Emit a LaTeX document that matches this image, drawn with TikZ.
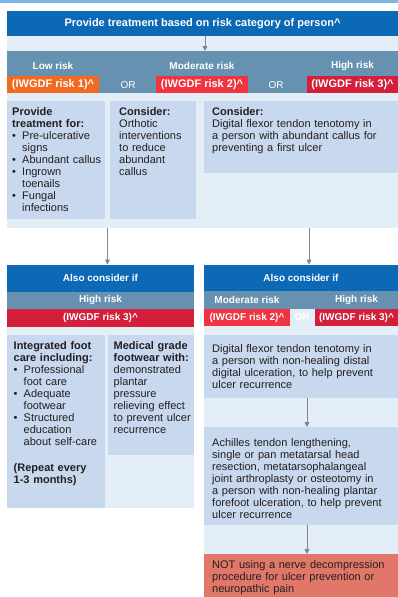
\documentclass[tikz,border=0pt]{standalone}
\usepackage{fontspec}
\setmainfont{Liberation Sans}
\usepackage{enumitem}
\usetikzlibrary{arrows.meta}

\definecolor{stripblue}{HTML}{7DB6E3}
\definecolor{hdrblue}{HTML}{0B69B5}
\definecolor{bandblue}{HTML}{6791B0}
\definecolor{panelbg}{HTML}{E3EEF6}
\definecolor{cardblue}{HTML}{C8D8EE}
\definecolor{lowrisk}{HTML}{F26A22}
\definecolor{modrisk}{HTML}{EF3340}
\definecolor{highrisk}{HTML}{D31F3A}
\definecolor{notbox}{HTML}{E07769}
\definecolor{bodytext}{HTML}{231F20}
\definecolor{flowgray}{HTML}{7E8790}

\newcommand{\bodysize}{\fontsize{11}{12}\selectfont}
\newcommand{\lblsize}{\fontsize{10}{12}\selectfont\bfseries}
\setlist[itemize]{leftmargin=10pt,labelwidth=5pt,labelsep=5pt,align=left,nosep,label=\textbullet}

\tikzset{
    area/.style={inner sep=0pt, outer sep=0pt, anchor=north west},
    panel/.style={area, fill=panelbg},
    hdr/.style={area, fill=hdrblue, text=white, font=\lblsize},
    band/.style={area, fill=bandblue, text=white, font=\lblsize},
    riskbox/.style={area, fill=#1, text=white, font=\lblsize},
    card/.style={area, fill=cardblue},
    cardtext/.style={inner sep=0pt, anchor=north west, align=left, text=bodytext, font=\bodysize},
    bandlbl/.style={text=white, font=\lblsize, inner sep=0pt},
    flow/.style={draw=flowgray, line width=0.9pt, -{Triangle[length=5pt,width=5pt]}},
}

\begin{document}
\begin{tikzpicture}[x=1pt,y=-1pt]
            \useasboundingbox (0,0) rectangle (398,597);
            \fill[stripblue] (0,0) rectangle (398,2.5);

            \node[panel, minimum width=391pt, minimum height=193pt] (toppanel) at (7,35) {};
            \node[hdr, minimum width=391pt, minimum height=24.5pt, font=\fontsize{11}{13}\selectfont\bfseries] (tophdr) at (7,11) {Provide treatment based on risk category of person\textasciicircum};
            \node[band, minimum width=391pt, minimum height=42pt] (topband) at (7,51) {};
            \node[riskbox=lowrisk, minimum width=92pt, minimum height=17pt, font=\fontsize{11}{12}\selectfont\bfseries] (low) at (7,76) {(IWGDF risk 1)\textasciicircum};
            \node[riskbox=modrisk, minimum width=92pt, minimum height=17pt, font=\fontsize{11}{12}\selectfont\bfseries] (mod) at (156,76) {(IWGDF risk 2)\textasciicircum};
            \node[riskbox=highrisk, minimum width=91pt, minimum height=17pt, font=\fontsize{11}{12}\selectfont\bfseries] (high) at (307,76) {(IWGDF risk 3)\textasciicircum};
            \node[bandlbl] (lowlbl) at (53,65.5) {Low risk};
            \node[bandlbl] (modlbl) at (202,65.5) {Moderate risk};
            \node[bandlbl] (highlbl) at (352.5,65.5) {High risk};
            \node[bandlbl, font=\fontsize{10}{12}\selectfont] (or1) at (128,85.5) {OR};
            \node[bandlbl, font=\fontsize{10}{12}\selectfont] (or2) at (276,85.5) {OR};
            \draw[flow] ([xshift=2.5pt]tophdr.south) -- ([xshift=2.5pt]topband.north);

            \node[card, minimum width=98pt, minimum height=118pt] (provide) at (7,101) {};
            \node[card, minimum width=86pt, minimum height=118pt] (orthotic) at (110,101) {};
            \node[card, minimum width=194pt, minimum height=72pt] (tenotomy) at (204,101) {};
            \node[cardtext, text width=92pt] (providetxt) at (12,107.5) {{\bfseries Provide\\treatment for:}
                \begin{itemize}
                \item Pre-ulcerative\\signs
                \item Abundant callus
                \item Ingrown\\toenails
                \item Fungal\\infections
                \end{itemize}};
            \node[cardtext, text width=76pt] (orthotictxt) at (119,107.5) {{\bfseries Consider:}\\Orthotic\\interventions\\to reduce\\abundant\\callus};
            \node[cardtext, text width=182pt] (tenotomytxt) at (212,107.5) {{\bfseries Consider:}\\Digital flexor tendon tenotomy in\\a person with abundant callus for\\preventing a first ulcer};

            \coordinate (splitL) at (107.5,228);
            \coordinate (splitR) at (309,228);

            \node[panel, minimum width=187pt, minimum height=243.5pt] (lpanel) at (7,264.5) {};
            \node[hdr, minimum width=187pt, minimum height=27pt] (lhdr) at (7,264.5) {Also consider if};
            \node[band, minimum width=187pt, minimum height=17.5pt] (lband) at (7,291.5) {High risk};
            \node[riskbox=highrisk, minimum width=187pt, minimum height=17.5pt] (lrisk) at (7,309) {(IWGDF risk 3)\textasciicircum};
            \node[card, minimum width=98pt, minimum height=173.5pt] (integrated) at (7,334.5) {};
            \node[card, minimum width=86pt, minimum height=120.5pt] (footwear) at (108,334.5) {};
            \node[cardtext, text width=90pt] (integratedtxt) at (13.5,341) {{\bfseries Integrated foot\\care including:}
                \begin{itemize}
                \item Professional\\foot care
                \item Adequate\\footwear
                \item Structured\\education\\about self-care
                \end{itemize}
                \vspace{14pt}
                {\bfseries (Repeat every\\1-3 months)}};
            \node[cardtext, text width=80pt] (footweartxt) at (113.5,341) {{\bfseries Medical grade\\footwear with:}\\demonstrated\\plantar\\pressure\\relieving effect\\to prevent ulcer\\recurrence};

            \node[panel, minimum width=194pt, minimum height=332.5pt] (rpanel) at (204,264.5) {};
            \node[hdr, minimum width=194pt, minimum height=26.5pt] (rhdr) at (204,264.5) {Also consider if};
            \node[band, minimum width=194pt, minimum height=18pt] (rband) at (204,291) {};
            \node[riskbox=modrisk, minimum width=86pt, minimum height=17pt] (rmod) at (204,309) {(IWGDF risk 2)\textasciicircum};
            \node[riskbox=highrisk, minimum width=83pt, minimum height=17pt] (rhigh) at (315,309) {(IWGDF risk 3)\textasciicircum};
            \node[bandlbl] (rmodlbl) at (247,300) {Moderate risk};
            \node[bandlbl] (rhighlbl) at (356.5,300) {High risk};
            \node[bandlbl] (or3) at (302,317.5) {OR};
            \node[card, minimum width=194pt, minimum height=63.5pt] (distal) at (204,334.5) {};
            \node[card, minimum width=194pt, minimum height=98pt] (achilles) at (204,427) {};
            \node[area, fill=notbox, minimum width=194pt, minimum height=43pt] (decomp) at (204,554) {};
            \node[cardtext, text width=184pt] (distaltxt) at (212,344) {Digital flexor tendon tenotomy in\\a person with non-healing distal\\digital ulceration, to help prevent\\ulcer recurrence};
            \node[cardtext, text width=184pt] (achillestxt) at (212,438) {Achilles tendon lengthening,\\single or pan metatarsal head\\resection, metatarsophalangeal\\joint arthroplasty or osteotomy in\\a person with non-healing plantar\\forefoot ulceration, to help prevent\\ulcer recurrence};
            \node[cardtext, text width=184pt] (decomptxt) at (212,560) {NOT using a nerve decompression\\procedure for ulcer prevention or\\neuropathic pain};

            \draw[flow] (splitL) -- (splitL |- lhdr.north);
            \draw[flow] (splitR) -- (splitR |- rhdr.north);
            \draw[flow] ([xshift=6pt]distal.south) -- ([xshift=6pt]achilles.north);
            \draw[flow] ([xshift=6pt]achilles.south) -- ([xshift=6pt]decomp.north);
\end{tikzpicture}
\end{document}
